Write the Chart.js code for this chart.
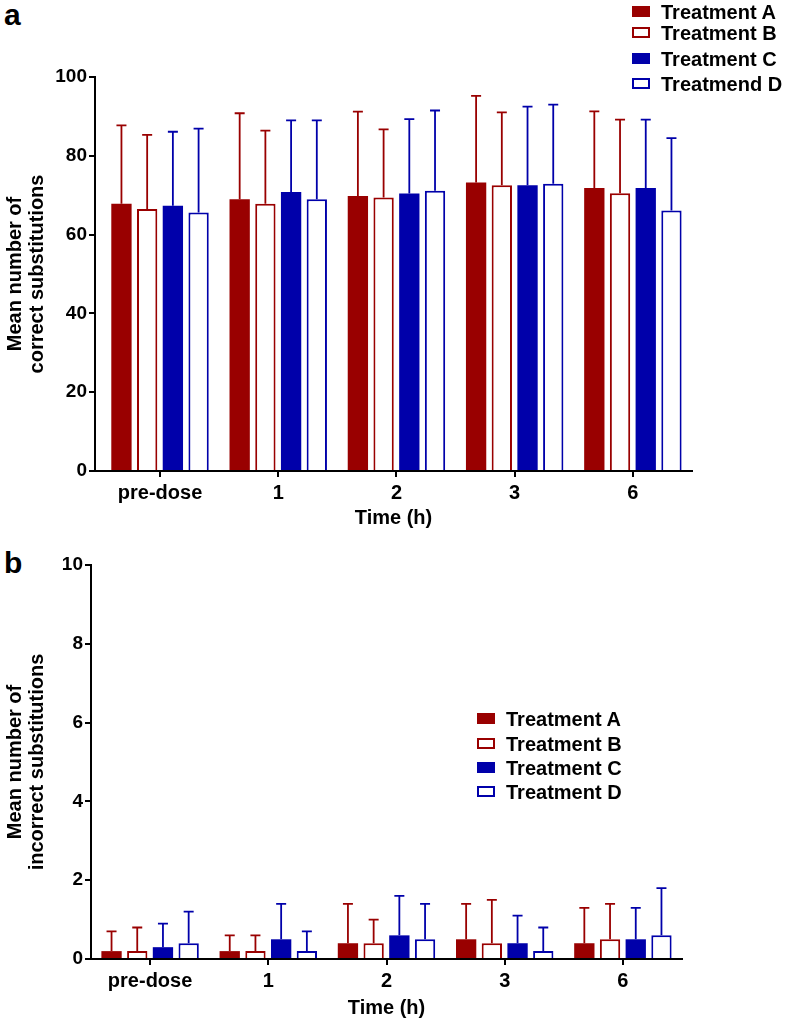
<!DOCTYPE html>
<html>
<head>
<meta charset="utf-8">
<script src="https://cdn.jsdelivr.net/npm/chart.js@4/dist/chart.umd.min.js"></script>
<style>
  body { margin: 0; background: #fff; }
  #page { position: relative; width: 785px; height: 1025px; font-family: "Liberation Sans", Arial, sans-serif; }
  canvas { position: absolute; left: 0; }
  .panel-letter { position: absolute; left: 4px; font-size: 30px; font-weight: bold; line-height: 30px; }
  .legend-row { position: absolute; font-size: 20px; font-weight: bold; line-height: 22px; white-space: nowrap; }
  .swatch { display: inline-block; width: 18px; height: 11px; box-sizing: border-box; vertical-align: middle; margin-right: 11px; position: relative; top: -2px; }
</style>
</head>
<body>
<div id="page">
  <div class="panel-letter" style="top:0px">a</div>
  <div class="panel-letter" style="top:548px">b</div>
  <canvas id="chartCorrect" width="785" height="530" style="top:0"></canvas>
  <canvas id="chartIncorrect" width="785" height="495" style="top:530px"></canvas>
  <div id="legendCorrect"></div>
  <div id="legendIncorrect"></div>
</div>
<script>
// x categories
const timeLabels = ['pre-dose', '1', '2', '3', '6'];

// panel a: mean number of correct substitutions (mean and SD)
const correctA = [67.8, 69.0, 69.8, 73.2, 71.8];
const correctSdA = [19.9, 21.8, 21.4, 22.0, 19.5];
const correctB = [66.5, 67.8, 69.4, 72.5, 70.5];
const correctSdB = [18.8, 18.6, 17.3, 18.5, 18.7];
const correctC = [67.3, 70.8, 70.4, 72.5, 71.8];
const correctSdC = [18.8, 18.2, 18.9, 20.0, 17.4];
const correctD = [65.6, 69.0, 71.1, 72.9, 66.1];
const correctSdD = [21.3, 20.0, 20.4, 20.1, 18.4];

// panel b: mean number of incorrect substitutions (mean and SD)
const incorrectA = [0.2, 0.2, 0.4, 0.5, 0.4];
const incorrectSdA = [0.5, 0.4, 1.0, 0.9, 0.9];
const incorrectB = [0.2, 0.2, 0.4, 0.4, 0.5];
const incorrectSdB = [0.6, 0.4, 0.6, 1.1, 0.9];
const incorrectC = [0.3, 0.5, 0.6, 0.4, 0.5];
const incorrectSdC = [0.6, 0.9, 1.0, 0.7, 0.8];
const incorrectD = [0.4, 0.2, 0.5, 0.2, 0.6];
const incorrectSdD = [0.8, 0.5, 0.9, 0.6, 1.2];

const correctTicks = [0, 20, 40, 60, 80, 100];
const incorrectTicks = [0, 2, 4, 6, 8, 10];

const correctLegend = ['Treatment A', 'Treatment B', 'Treatment C', 'Treatmend D'];
const incorrectLegend = ['Treatment A', 'Treatment B', 'Treatment C', 'Treatment D'];

const RED = '#990000';
const BLUE = '#0000aa';
const FONT = '"Liberation Sans", Arial, sans-serif';

Chart.defaults.font.family = FONT;
Chart.defaults.font.weight = 'bold';
Chart.defaults.color = '#000';

// draws the upper SD whisker with a cap on each bar
const errorBarPlugin = {
  id: 'errorBars',
  afterDatasetsDraw(chart) {
    const ctx = chart.ctx;
    const yScale = chart.scales.y;
    chart.data.datasets.forEach((ds, i) => {
      const meta = chart.getDatasetMeta(i);
      ctx.save();
      ctx.strokeStyle = ds.errorColor;
      ctx.lineWidth = 1.8;
      meta.data.forEach((bar, j) => {
        const top = yScale.getPixelForValue(ds.data[j].y + ds.errors[j]);
        ctx.beginPath();
        ctx.moveTo(bar.x, bar.y);
        ctx.lineTo(bar.x, top);
        ctx.moveTo(bar.x - 5, top);
        ctx.lineTo(bar.x + 5, top);
        ctx.stroke();
      });
      ctx.restore();
    });
  }
};

function makeDataset(label, means, sds, color, filled) {
  return {
    label,
    data: means.map((v, i) => ({ x: i, y: v })),
    errors: sds,
    errorColor: color,
    backgroundColor: filled ? color : '#fff',
    borderColor: color,
    borderWidth: filled ? 0 : 2,
    borderSkipped: 'start',
    barPercentage: 0.79,
    categoryPercentage: 0.87
  };
}

function buildChart(canvasId, cfg) {
  const canvas = document.getElementById(canvasId);
  return new Chart(canvas.getContext('2d'), {
    type: 'bar',
    data: {
      datasets: [
        makeDataset(cfg.legend[0], cfg.series[0], cfg.errors[0], RED, true),
        makeDataset(cfg.legend[1], cfg.series[1], cfg.errors[1], RED, false),
        makeDataset(cfg.legend[2], cfg.series[2], cfg.errors[2], BLUE, true),
        makeDataset(cfg.legend[3], cfg.series[3], cfg.errors[3], BLUE, false)
      ]
    },
    options: {
      responsive: false,
      animation: false,
      layout: { padding: { left: 0, top: cfg.top, right: cfg.right, bottom: 0 } },
      plugins: { legend: { display: false }, tooltip: { enabled: false } },
      scales: {
        x: {
          type: 'linear',
          min: cfg.xMin,
          max: cfg.xMax,
          offset: false,
          afterBuildTicks: (scale) => { scale.ticks = timeLabels.map((_, i) => ({ value: i })); },
          afterFit: (scale) => { scale.height = cfg.xHeight; },
          grid: { display: true, offset: false, drawOnChartArea: false, drawTicks: true, tickLength: 6, color: '#000', lineWidth: 2 },
          border: { display: true, color: '#000', width: 2 },
          ticks: {
            autoSkip: false, maxRotation: 0, minRotation: 0, padding: 4,
            font: { size: 20, weight: 'bold' }, color: '#000',
            callback: (v) => timeLabels[v]
          },
          title: { display: true, text: 'Time (h)', font: { size: 20, weight: 'bold' }, color: '#000', padding: { top: 0, bottom: cfg.titlePad } }
        },
        y: {
          min: cfg.yTicks[0],
          max: cfg.yTicks[cfg.yTicks.length - 1],
          afterBuildTicks: (scale) => { scale.ticks = cfg.yTicks.map((v) => ({ value: v })); },
          afterFit: (scale) => { scale.width = cfg.yWidth; },
          grid: { display: true, drawOnChartArea: false, drawTicks: true, tickLength: 6, color: '#000', lineWidth: 2 },
          border: { display: true, color: '#000', width: 2 },
          ticks: { padding: 2, font: { size: 19, weight: 'bold' }, color: '#000' },
          title: { display: true, text: cfg.yTitle, font: { size: 20, weight: 'bold', lineHeight: 1.1 }, color: '#000', padding: { top: 4, bottom: 0 } }
        }
      }
    },
    plugins: [errorBarPlugin]
  });
}

function buildLegend(containerId, labels, left, centers) {
  const box = document.getElementById(containerId);
  const styles = [
    `background:${RED}`,
    `border:2px solid ${RED};background:#fff`,
    `background:${BLUE}`,
    `border:2px solid ${BLUE};background:#fff`
  ];
  labels.forEach((text, i) => {
    const row = document.createElement('div');
    row.className = 'legend-row';
    row.style.left = left + 'px';
    row.style.top = (centers[i] - 11) + 'px';
    row.innerHTML = `<span class="swatch" style="${styles[i]}"></span>`;
    row.appendChild(document.createTextNode(text));
    box.appendChild(row);
  });
}

buildChart('chartCorrect', {
  series: [correctA, correctB, correctC, correctD],
  errors: [correctSdA, correctSdB, correctSdC, correctSdD],
  legend: correctLegend,
  yTicks: correctTicks,
  yTitle: ['Mean number of', 'correct substitutions'],
  top: 77, right: 93, yWidth: 95, xHeight: 59, titlePad: 0,
  xMin: -0.55, xMax: 4.5
});

buildChart('chartIncorrect', {
  series: [incorrectA, incorrectB, incorrectC, incorrectD],
  errors: [incorrectSdA, incorrectSdB, incorrectSdC, incorrectSdD],
  legend: incorrectLegend,
  yTicks: incorrectTicks,
  yTitle: ['Mean number of', 'incorrect substitutions'],
  top: 35, right: 103, yWidth: 91, xHeight: 66, titlePad: 5,
  xMin: -0.5, xMax: 4.5
});

buildLegend('legendCorrect', correctLegend, 632, [12, 33, 59, 84]);
buildLegend('legendIncorrect', incorrectLegend, 477, [719, 744, 768, 792]);
</script>
</body>
</html>
